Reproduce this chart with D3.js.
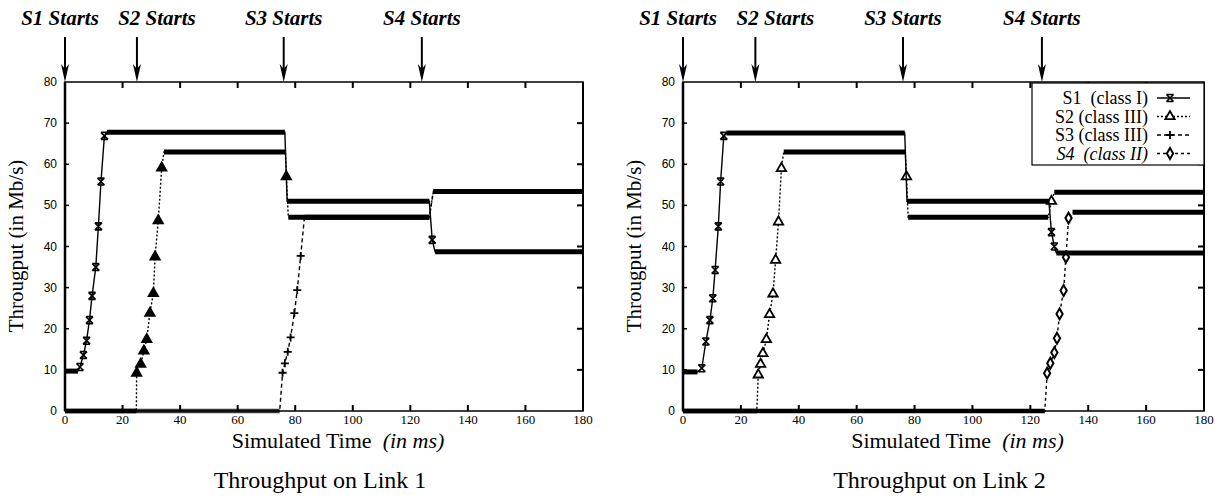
<!DOCTYPE html>
<html>
<head>
  <title>Throughput on Links</title>
  <script src="https://d3js.org/d3.v7.min.js"></script>
  <style>
    body { margin: 0; background: #fff; }
    text { font-family: "Liberation Serif", "Times New Roman", serif; fill: #000; }
    .pre { white-space: pre; }
  </style>
</head>
<body>
  <svg width="1222" height="500"></svg>
  <script>
    // ---- data ----
    var timeTicks = [0, 20, 40, 60, 80, 100, 120, 140, 160, 180];
    var rateTicks = [0, 10, 20, 30, 40, 50, 60, 70, 80];
    var startTimes = [0, 25, 76, 124];
    var startLabels = ["S1 Starts", "S2 Starts", "S3 Starts", "S4 Starts"];

    // levels: [tStart, tEnd, value]  steps: [t, value] (marked points)
    var l1S1Levels = [[0, 4.5, 9.7], [14.6, 76.4, 67.8], [77.2, 126.6, 51], [128.6, 180, 38.7]];
    var l1S1Steps = [[5.2, 10.7], [6.4, 13.6], [7.5, 17.1], [8.5, 22.1], [9.4, 28], [10.7, 35],
                     [11.6, 44.9], [12.5, 55.8], [13.7, 66.9], [127.6, 41.6]];
    var l1S2Levels = [[0, 24.8, 0], [34.4, 76.6, 63], [77.6, 126.6, 47.1], [128, 180, 53.4]];
    var l1S2Steps = [[24.9, 9.2], [26.3, 11.4], [27.4, 14.6], [28.4, 17.4], [29.5, 23.8], [30.7, 28.6],
                     [31.3, 37.5], [32.4, 46.3], [33.6, 59.1], [76.9, 57]];
    var l1S3Levels = [[0, 74.6, 0], [83.2, 126.6, 47.1], [128, 180, 53.4]];
    var l1S3Steps = [[75.6, 9.3], [76.4, 11.6], [77.4, 14.4], [78.4, 17.9], [79.7, 23.8], [80.7, 29.4], [81.9, 37.7]];

    var l2S1Levels = [[0, 5, 9.5], [15, 76.6, 67.6], [77.4, 126.4, 51], [129, 180, 38.4]];
    var l2S1Steps = [[6.5, 10.4], [7.9, 16.9], [9.3, 22.1], [10.3, 27.4], [11.1, 34.3], [12.2, 44.9],
                     [13, 55.8], [14.1, 66.9], [127.3, 43.5], [128.3, 40]];
    var l2S2Levels = [[0, 25.5, 0], [34.8, 76.8, 63], [77.8, 126.2, 47.1], [128.3, 180, 53.2]];
    var l2S2Steps = [[26, 8.8], [26.8, 11.4], [27.6, 14], [28.8, 17.4], [29.9, 23.5], [31.1, 28.5],
                     [32, 36.7], [33, 46], [34, 59], [77.2, 57], [127.3, 51]];
    var l2S4Levels = [[0, 125, 0], [134.6, 180, 48.3]];
    var l2S4Steps = [[125.8, 9.2], [126.9, 11.6], [128.3, 14.2], [129.2, 17.7], [130.1, 23.6],
                     [131.5, 29.3], [132.3, 37.4], [133.2, 46.9]];

    var legendNames = ["S1  (class I)", "S2 (class III)", "S3 (class III)", "S4  (class II)"];

    // ---- styles ----
    var styles = {
      S1: {dash: null, marker: "cross", zero: "#000"},
      S2: {dash: "2,2", marker: "tri", zero: "#000"},
      S3: {dash: "4,3", marker: "plus", zero: "#3a3a3a"},
      S4: {dash: "3,3", marker: "diamond", zero: "#000"}
    };

    var svg = d3.select("svg");

    function drawMarker(g, type, x, y, hollow) {
      if (type === "cross") {
        g.append("path").attr("d", "M" + (x - 3.5) + "," + (y - 3.5) + "L" + (x + 3.5) + "," + (y + 3.5) +
          "M" + (x - 3.5) + "," + (y + 3.5) + "L" + (x + 3.5) + "," + (y - 3.5) +
          "M" + (x - 3.5) + "," + (y - 3.5) + "L" + (x + 3.5) + "," + (y - 3.5) +
          "M" + (x - 3.5) + "," + (y + 3.5) + "L" + (x + 3.5) + "," + (y + 3.5))
          .attr("stroke", "#000").attr("stroke-width", 1.6).attr("fill", "none");
      } else if (type === "tri") {
        g.append("path").attr("d", d3.symbol(d3.symbolTriangle, 38)())
          .attr("transform", "translate(" + x + "," + y + ")")
          .attr("fill", hollow ? "#fff" : "#000").attr("stroke", "#000").attr("stroke-width", 1.8);
      } else if (type === "plus") {
        g.append("path").attr("d", "M" + (x - 4) + "," + y + "L" + (x + 4) + "," + y +
          "M" + x + "," + (y - 4) + "L" + x + "," + (y + 4))
          .attr("stroke", "#000").attr("stroke-width", 1.8);
      } else if (type === "diamond") {
        g.append("path").attr("d", d3.symbol(d3.symbolDiamond, 34)())
          .attr("transform", "translate(" + x + "," + y + ")")
          .attr("fill", "#fff").attr("stroke", "#000").attr("stroke-width", 2);
      }
    }

    function drawPanel(p) {
      var x = d3.scaleLinear().domain([0, 180]).range([p.x0, p.x1]);
      var y = d3.scaleLinear().domain([0, 80]).range([411, 82]);
      var g = svg.append("g");

      // series
      p.series.forEach(function(s) {
        var st = styles[s.name];
        var pts = [];
        s.levels.forEach(function(l) { pts.push([l[0], l[2]], [l[1], l[2]]); });
        s.steps.forEach(function(d) { pts.push(d); });
        pts.sort(function(a, b) { return a[0] - b[0]; });
        var line = d3.line().x(function(d) { return x(d[0]); }).y(function(d) { return y(d[1]); });
        g.append("path").attr("d", line(pts)).attr("fill", "none").attr("stroke", "#000")
          .attr("stroke-width", 1.4).attr("stroke-dasharray", st.dash);
        s.levels.forEach(function(l) {
          g.append("line")
            .attr("x1", x(l[0])).attr("x2", x(l[1]))
            .attr("y1", y(l[2])).attr("y2", y(l[2]))
            .attr("stroke", l[2] === 0 ? st.zero : "#000")
            .attr("stroke-width", l[2] === 0 ? 4.5 : 5);
        });
        s.steps.forEach(function(d) { drawMarker(g, st.marker, x(d[0]), y(d[1]), p.hollow); });
      });

      // frame
      g.append("rect").attr("x", p.x0).attr("y", y(80)).attr("width", p.x1 - p.x0).attr("height", y(0) - y(80))
        .attr("fill", "none").attr("stroke", "#000").attr("stroke-width", 1.5);
      g.append("line").attr("x1", p.x0).attr("x2", p.x0).attr("y1", y(80)).attr("y2", y(0))
        .attr("stroke", "#000").attr("stroke-width", 2.5);
      g.append("line").attr("x1", p.x1).attr("x2", p.x1).attr("y1", y(80)).attr("y2", y(0))
        .attr("stroke", "#000").attr("stroke-width", 2);

      // ticks (inward, all four sides)
      timeTicks.forEach(function(t) {
        if (t === 0 || t === 180) return;
        g.append("line").attr("x1", x(t)).attr("x2", x(t)).attr("y1", y(0)).attr("y2", y(0) - 6)
          .attr("stroke", "#000").attr("stroke-width", 2);
        g.append("line").attr("x1", x(t)).attr("x2", x(t)).attr("y1", y(80)).attr("y2", y(80) + 6)
          .attr("stroke", "#000").attr("stroke-width", 2);
      });
      rateTicks.forEach(function(r) {
        if (r === 0 || r === 80) return;
        g.append("line").attr("x1", p.x1).attr("x2", p.x1 - 6).attr("y1", y(r)).attr("y2", y(r))
          .attr("stroke", "#000").attr("stroke-width", 2);
        g.append("line").attr("x1", p.x0).attr("x2", p.x0 + 4).attr("y1", y(r)).attr("y2", y(r))
          .attr("stroke", "#000").attr("stroke-width", 1.5);
      });

      // tick labels
      g.selectAll(".xl").data(timeTicks).enter().append("text")
        .attr("x", function(d) { return x(d); }).attr("y", 424)
        .attr("text-anchor", "middle").style("font-size", "13px").text(function(d) { return d; });
      g.selectAll(".yl").data(rateTicks).enter().append("text")
        .attr("x", p.x0 - 8).attr("y", function(d) { return y(d) + 4; })
        .attr("text-anchor", "end").style("font-family", "'Liberation Sans', Arial, sans-serif")
        .style("font-size", "12px").text(function(d) { return d; });

      // axis titles
      var xt = g.append("text").attr("class", "pre").attr("x", (p.x0 + p.x1) / 2 + 14).attr("y", 448)
        .attr("text-anchor", "middle").style("font-size", "22px");
      xt.append("tspan").text("Simulated Time  ");
      xt.append("tspan").style("font-style", "italic").text("(in ms)");
      g.append("text").attr("transform", "translate(" + (p.x0 - 42) + ",246) rotate(-90)")
        .attr("text-anchor", "middle").style("font-size", "21px").text("Througput (in Mb/s)");
      g.append("text").attr("x", (p.x0 + p.x1) / 2 - 4).attr("y", 488).attr("text-anchor", "middle")
        .style("font-size", "24px").text(p.title);

      // start arrows
      var labelShift = [-5, 20, 0, 0];
      startTimes.forEach(function(t, i) {
        var ax = x(t);
        g.append("line").attr("x1", ax).attr("x2", ax).attr("y1", 37).attr("y2", 72)
          .attr("stroke", "#000").attr("stroke-width", 2);
        g.append("path").attr("d", "M" + (ax - 4) + ",64L" + ax + ",82L" + (ax + 4) + ",64L" + ax + ",69Z")
          .attr("fill", "#000");
        g.append("text").attr("x", ax + labelShift[i]).attr("y", 25).attr("text-anchor", "middle")
          .style("font-size", "21px").style("font-weight", "bold").style("font-style", "italic")
          .text(startLabels[i]);
      });

      return {x: x, y: y, g: g};
    }

    drawPanel({
      x0: 65, x1: 583, title: "Throughput on Link 1", hollow: false,
      series: [
        {name: "S3", levels: l1S3Levels, steps: l1S3Steps},
        {name: "S2", levels: l1S2Levels, steps: l1S2Steps},
        {name: "S1", levels: l1S1Levels, steps: l1S1Steps}
      ]
    });

    drawPanel({
      x0: 683, x1: 1204, title: "Throughput on Link 2", hollow: true,
      series: [
        {name: "S4", levels: l2S4Levels, steps: l2S4Steps},
        {name: "S2", levels: l2S2Levels, steps: l2S2Steps},
        {name: "S1", levels: l2S1Levels, steps: l2S1Steps}
      ]
    });

    // legend (link 2 panel)
    var lg = svg.append("g");
    lg.append("rect").attr("x", 1032).attr("y", 83).attr("width", 172).attr("height", 82)
      .attr("fill", "#fff").attr("stroke", "#000").attr("stroke-width", 1.2);
    ["S1", "S2", "S3", "S4"].forEach(function(n, i) {
      var by = 104 + i * 18.5;
      lg.append("text").attr("class", "pre").attr("x", 1148).attr("y", by).attr("text-anchor", "end")
        .style("font-size", "18px").style("font-style", i === 3 ? "italic" : "normal").text(legendNames[i]);
      lg.append("line").attr("x1", 1157).attr("x2", 1190).attr("y1", by - 6).attr("y2", by - 6)
        .attr("stroke", "#000").attr("stroke-width", 1.3).attr("stroke-dasharray", styles[n].dash);
      drawMarker(lg, styles[n].marker, 1170, by - 6, true);
    });
  </script>
</body>
</html>
